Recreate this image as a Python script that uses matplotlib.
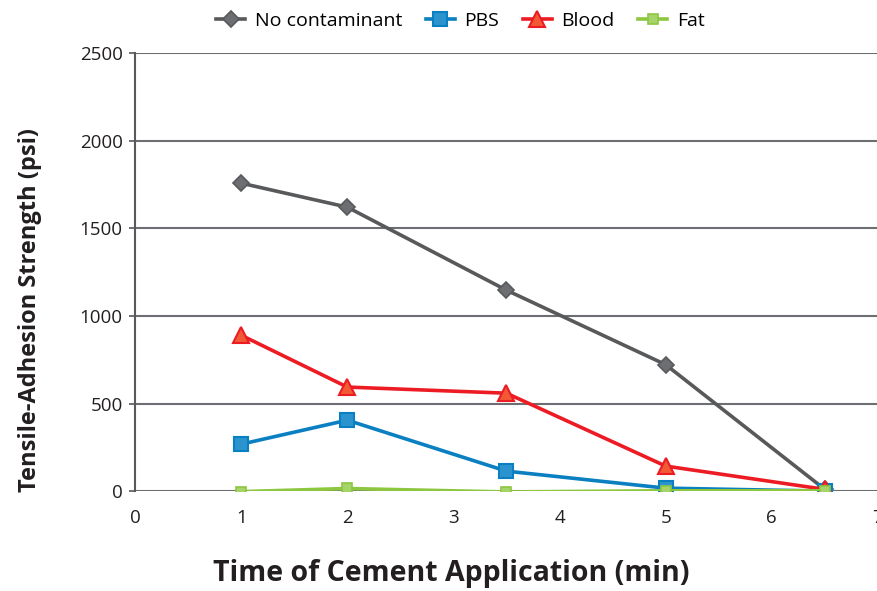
import matplotlib.pyplot as plt

plt.rcParams['font.family'] = ['Open Sans', 'DejaVu Sans']

time_min = [1, 2, 3.5, 5, 6.5]
no_contaminant = [1758, 1621, 1147, 722, 10]
pbs = [268, 405, 114, 17, 0]
blood = [890, 594, 559, 143, 10]
fat = [-3, 15, -5, 2, 2]

fig = plt.figure(figsize=(8.77, 5.91), dpi=100)
ax = fig.add_axes([0.154, 0.169, 0.847, 0.741])

ax.plot(time_min, no_contaminant, color='#58595b', lw=2.6, marker='D', ms=8,
        mfc='#6d6e71', mec='#58595b', mew=1.2, label='No contaminant', zorder=3)
ax.plot(time_min, pbs, color='#0a7fc1', lw=2.6, marker='s', ms=10,
        mfc='#2b94cf', mec='#0a7fc1', mew=1.5, label='PBS', zorder=4)
ax.plot(time_min, blood, color='#ed1c24', lw=2.6, marker='^', ms=11,
        mfc='#f15a35', mec='#ed1c24', mew=1.5, label='Blood', zorder=5)
ax.plot(time_min, fat, color='#8dc63f', lw=2.6, marker='s', ms=7,
        mfc='#a6d46a', mec='#8dc63f', mew=1.2, label='Fat', zorder=6)

ax.set_xlim(0, 7)
ax.set_ylim(0, 2500)
ax.set_xticks(range(8))
ax.set_yticks(range(0, 2501, 500))
ax.yaxis.grid(True, color='#6d6e71', lw=1.5)
ax.set_axisbelow(True)
for s in ['top', 'right', 'bottom']:
    ax.spines[s].set_visible(False)
ax.spines['left'].set_color('#58595b')
ax.spines['left'].set_linewidth(1.5)
ax.tick_params(labelsize=13.5, colors='#231f20')
ax.tick_params(axis='x', length=0, pad=13)
ax.tick_params(axis='y', length=4, width=1.2, color='#58595b', pad=5)

ax.set_xlabel('Time of Cement Application (min)', fontsize=20.5, fontweight='bold',
              color='#231f20')
ax.xaxis.set_label_coords(0.425, -0.155)
ax.set_ylabel('Tensile-Adhesion Strength (psi)', fontsize=17, fontweight='bold',
              color='#231f20')
ax.yaxis.set_label_coords(-0.125, 0.413)

fig.legend(loc='center', bbox_to_anchor=(0.525, 0.964), ncol=4, frameon=False,
           fontsize=14, handlelength=1.5, columnspacing=1.2, handletextpad=0.5)

fig.savefig('out.png', dpi=100)
